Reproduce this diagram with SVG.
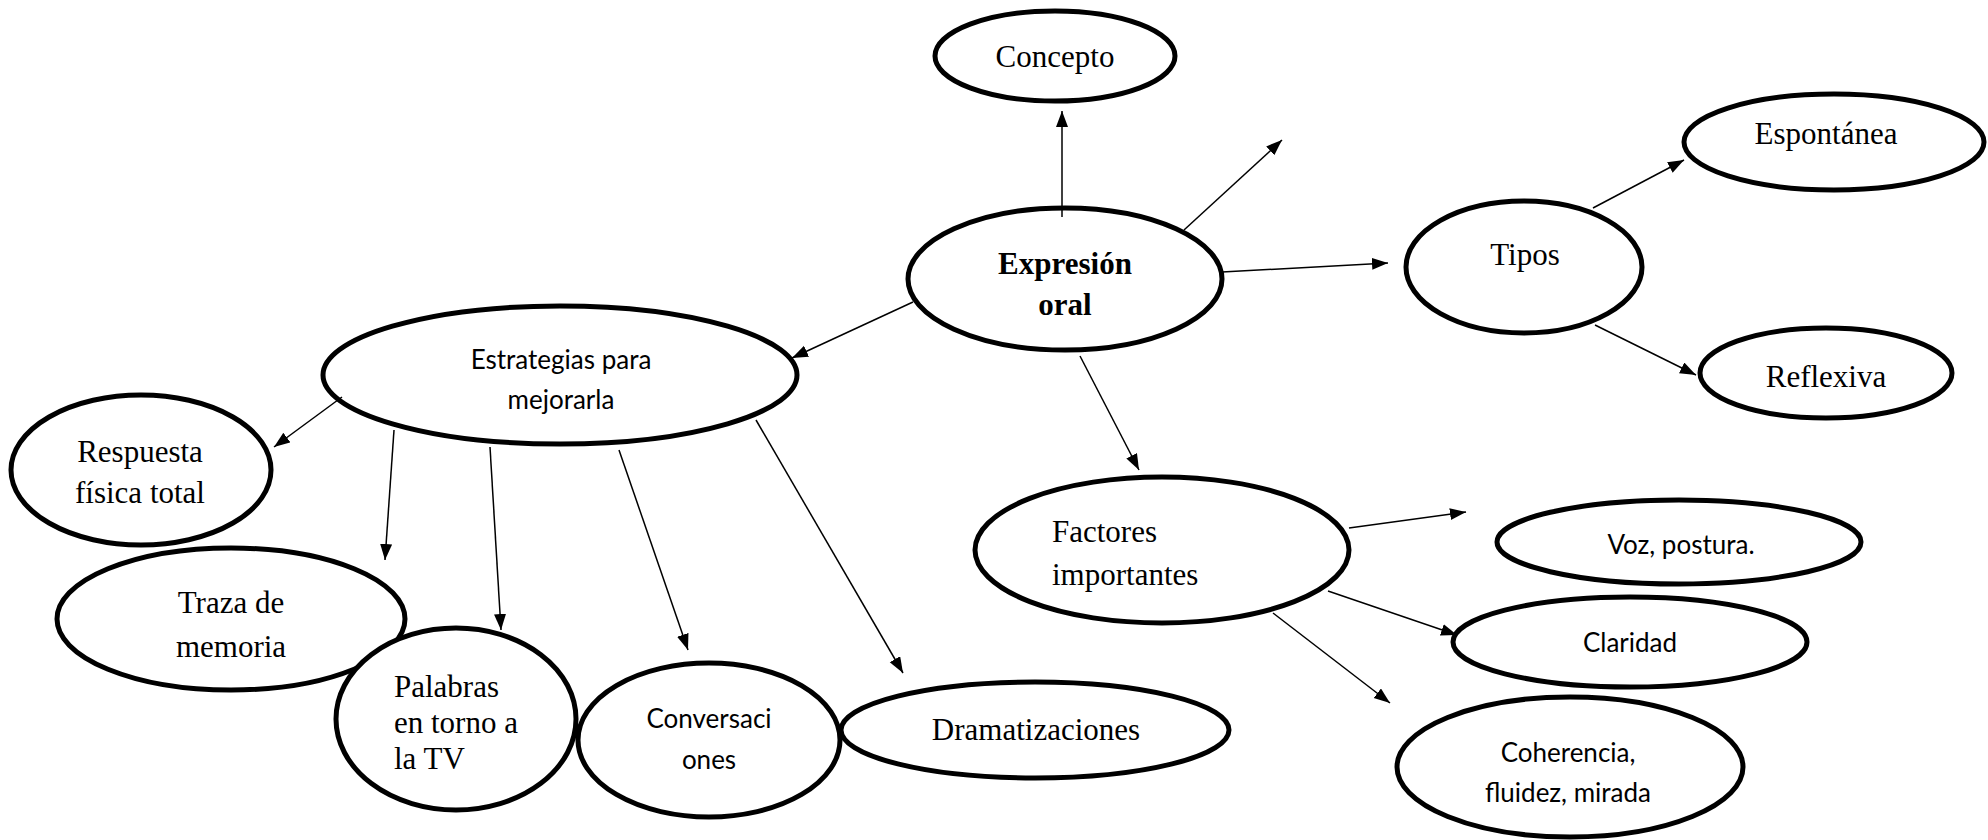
<svg xmlns="http://www.w3.org/2000/svg" width="1988" height="840" viewBox="0 0 1988 840">
<style>
.n{fill:#fff;stroke:#000;stroke-width:5}
.s{font-family:"Liberation Serif","Times New Roman",serif;font-size:31px;fill:#000}
.b{font-weight:bold}
.c{font-family:Lato,"Liberation Sans",sans-serif;font-size:26px;fill:#000}
.m{text-anchor:middle}
.e{stroke:#000;stroke-width:1.5;fill:none;marker-end:url(#ah)}
</style>
<defs>
<marker id="ah" markerUnits="userSpaceOnUse" markerWidth="18" markerHeight="14" refX="16" refY="6" orient="auto">
<path d="M0,0 L16,6 L0,12 z" fill="#000"/>
</marker>
</defs>
<rect width="1988" height="840" fill="#fff"/>
<g id="concepto"><ellipse class="n" cx="1055" cy="56" rx="120" ry="45"/><text class="s m" x="1055" y="67">Concepto</text></g>
<g id="expresion"><ellipse class="n" cx="1065" cy="279" rx="157" ry="71"/><text class="s b m" x="1065" y="274">Expresión</text><text class="s b m" x="1065" y="315">oral</text></g>
<g id="tipos"><ellipse class="n" cx="1524" cy="267" rx="118" ry="66"/><text class="s m" x="1525" y="265">Tipos</text></g>
<g id="espontanea"><ellipse class="n" cx="1834" cy="142" rx="150" ry="48"/><text class="s m" x="1826" y="144">Espontánea</text></g>
<g id="reflexiva"><ellipse class="n" cx="1826" cy="373" rx="126" ry="45"/><text class="s m" x="1826" y="387">Reflexiva</text></g>
<g id="estrategias"><ellipse class="n" cx="560" cy="375" rx="237" ry="69"/><text class="c m" x="561" y="369">Estrategias para</text><text class="c m" x="561" y="409">mejorarla</text></g>
<g id="respuesta"><ellipse class="n" cx="141" cy="470" rx="130" ry="75"/><text class="s m" x="140" y="462">Respuesta</text><text class="s m" x="140" y="503">física total</text></g>
<g id="traza"><ellipse class="n" cx="231" cy="619" rx="174" ry="71"/><text class="s m" x="231" y="613">Traza de</text><text class="s m" x="231" y="657">memoria</text></g>
<g id="palabras"><ellipse class="n" cx="456" cy="719" rx="120" ry="91"/><text class="s" x="394" y="697">Palabras</text><text class="s" x="394" y="733">en torno a</text><text class="s" x="394" y="769">la TV</text></g>
<g id="conversaciones"><ellipse class="n" cx="709" cy="740" rx="131" ry="77"/><text class="c m" x="709" y="728">Conversaci</text><text class="c m" x="709" y="769">ones</text></g>
<g id="dramatizaciones"><ellipse class="n" cx="1035" cy="730" rx="194" ry="48"/><text class="s m" x="1036" y="740">Dramatizaciones</text></g>
<g id="factores"><ellipse class="n" cx="1162" cy="550" rx="187" ry="73"/><text class="s" x="1052" y="542">Factores</text><text class="s" x="1052" y="585">importantes</text></g>
<g id="voz"><ellipse class="n" cx="1679" cy="542" rx="182" ry="42"/><text class="c m" x="1681" y="554">Voz, postura.</text></g>
<g id="claridad"><ellipse class="n" cx="1630" cy="642" rx="177" ry="45"/><text class="c m" x="1630" y="652">Claridad</text></g>
<g id="coherencia"><ellipse class="n" cx="1570" cy="767" rx="173" ry="70"/><text class="c m" x="1568" y="762">Coherencia,</text><text class="c m" x="1568" y="802">fluidez, mirada</text></g>
<g id="connectors">
<line class="e" x1="1062" y1="217" x2="1062" y2="111"/>
<line class="e" x1="1184" y1="230" x2="1282" y2="140"/>
<line class="e" x1="1222" y1="272" x2="1388" y2="263"/>
<line class="e" x1="1593" y1="208" x2="1684" y2="160"/>
<line class="e" x1="1595" y1="325" x2="1696" y2="375"/>
<line class="e" x1="913" y1="302" x2="792" y2="358"/>
<line class="e" x1="1080" y1="356" x2="1139" y2="470"/>
<line class="e" x1="1349" y1="528" x2="1466" y2="512"/>
<line class="e" x1="1328" y1="591" x2="1457" y2="635"/>
<line class="e" x1="1273" y1="613" x2="1390" y2="703"/>
<line class="e" x1="342" y1="397" x2="274" y2="447"/>
<line class="e" x1="394" y1="430" x2="385" y2="560"/>
<line class="e" x1="490" y1="447" x2="501" y2="630"/>
<line class="e" x1="619" y1="450" x2="688" y2="650"/>
<line class="e" x1="756" y1="420" x2="903" y2="673"/>
</g>
</svg>
